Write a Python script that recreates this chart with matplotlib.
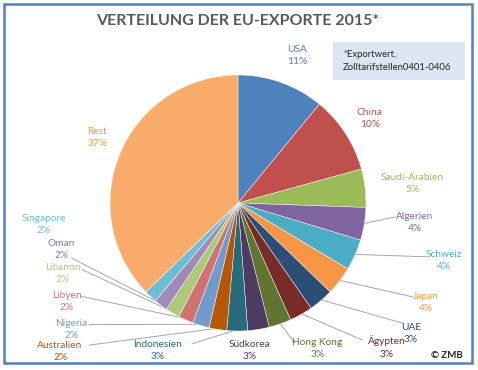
import matplotlib
matplotlib.use("Agg")
import matplotlib.pyplot as plt
import numpy as np
from matplotlib.patches import Rectangle

plt.rcParams['font.family'] = ['Lato', 'DejaVu Sans']

# ---- data ----
countries = ["USA", "China", "Saudi-Arabien", "Algerien", "Schweiz", "Japan", "UAE",
             "Ägypten", "Hong Kong", "Südkorea", "Indonesien", "Australien", "Nigeria",
             "Libyen", "Libanon", "Oman", "Singapore", "Rest"]
shares = [10.9, 9.7, 4.8, 4.1, 3.9, 3.6, 3.1, 2.9, 2.8, 2.7, 2.6, 2.2, 2.1, 1.9, 1.8, 1.7, 1.6, 37.0]
pct_labels = ["11%", "10%", "5%", "4%", "4%", "4%", "3%", "3%", "3%", "3%", "3%", "2%", "2%",
              "2%", "2%", "2%", "2%", "37%"]
title = "VERTEILUNG DER EU-EXPORTE 2015*"
note = "*Exportwert,\nZolltarifstellen0401-0406"

colors = ["#4F81BD", "#C0504D", "#9BBB59", "#8064A2", "#4BACC6", "#F79646", "#2C4D75",
          "#772C2A", "#5F7530", "#4D3B62", "#276A7C", "#B65708", "#729ACA", "#CD7371",
          "#AFC97A", "#A18AB8", "#6FBDD1", "#F9AB6B"]
text_colors = ["#4F81BD", "#C0504D", "#9BBB59", "#8064A2", "#4BACC6", "#F79646", "#2C4D75",
               "#772C2A", "#5F7530", "#4D3B62", "#276A7C", "#B65708", "#729ACA", "#CD7371",
               "#AFC97A", "#8C74AE", "#6FBDD1", "#F79646"]

# ---- layout (pie-centre coordinates, radius = 1) ----
label_pos = {
    "USA": (0.46, 1.15), "China": (1.03, 0.66), "Saudi-Arabien": (1.36, 0.15),
    "Algerien": (1.38, -0.15), "Schweiz": (1.61, -0.45), "Japan": (1.47, -0.78),
    "UAE": (1.35, -1.02), "Ägypten": (1.16, -1.125), "Hong Kong": (0.62, -1.14),
    "Südkorea": (0.09, -1.15), "Indonesien": (-0.63, -1.15), "Australien": (-1.39, -1.16),
    "Nigeria": (-1.30, -0.99), "Libyen": (-1.34, -0.77), "Libanon": (-1.37, -0.55),
    "Oman": (-1.38, -0.36), "Singapore": (-1.52, -0.17), "Rest": (-1.10, 0.51),
}
leader_start = {
    "Algerien": (1.227, -0.109), "Schweiz": (1.465, -0.42), "Japan": (1.367, -0.734),
    "UAE": (1.29, -0.94), "Ägypten": (0.97, -1.07), "Hong Kong": (0.44, -1.09),
    "Indonesien": (-0.36, -1.10), "Australien": (-1.16, -1.11), "Nigeria": (-1.16, -0.95),
    "Libyen": (-1.22, -0.73), "Libanon": (-1.22, -0.52), "Oman": (-1.30, -0.43),
}

W, H = 478, 370
cx, cy, R = 238, 203, 128

fig = plt.figure(figsize=(W / 100, H / 100), dpi=100)
ax = fig.add_axes([0, 0, 1, 1])
ax.set_xlim(-cx / R, (W - cx) / R)
ax.set_ylim((cy - H) / R, cy / R)
ax.set_aspect('auto')
ax.axis('off')

wedges, _ = ax.pie(shares, colors=colors, startangle=90, counterclock=False,
                   radius=1, center=(0, 0), frame=True,
                   wedgeprops=dict(edgecolor='white', linewidth=0.3))
ax.set_xlim(-cx / R, (W - cx) / R)
ax.set_ylim((cy - H) / R, cy / R)
ax.axis('off')

for w, name, pct, tc in zip(wedges, countries, pct_labels, text_colors):
    x, y = label_pos[name]
    ax.text(x, y, f"{name}\n{pct}", color=tc, fontsize=7.3, ha='center', va='center',
            linespacing=1.45)
    if name in leader_start:
        mid = np.deg2rad((w.theta1 + w.theta2) / 2)
        ex, ey = np.cos(mid) * 0.99, np.sin(mid) * 0.99
        sx, sy = leader_start[name]
        ax.plot([sx, ex], [sy, ey], color="#A6A6A6", lw=0.7, zorder=0.5)

fig.text(238 / W, 1 - 21 / H, title, ha='center', va='center', fontsize=11.5,
         fontweight='bold', color="#595959")

# note box
fig.patches.append(Rectangle((333 / W, 1 - 80 / H), 132 / W, 38 / H,
                             transform=fig.transFigure, facecolor="#DCE6F2",
                             edgecolor='none', zorder=1))
fig.text(343 / W, 1 - 61 / H, note, ha='left', va='center', fontsize=6.8,
         color="#262626", linespacing=1.5, zorder=2)

fig.text(447 / W, 1 - 356 / H, "© ZMB", ha='center', va='center', fontsize=7,
         fontweight='bold', color="#262626")

# border
fig.patches.append(Rectangle((4 / W, 1 - 363 / H), 468 / W, 359 / H,
                             transform=fig.transFigure, facecolor='none',
                             edgecolor="#4F81BD", linewidth=1.8, zorder=3))

fig.savefig("out.png", dpi=100)
